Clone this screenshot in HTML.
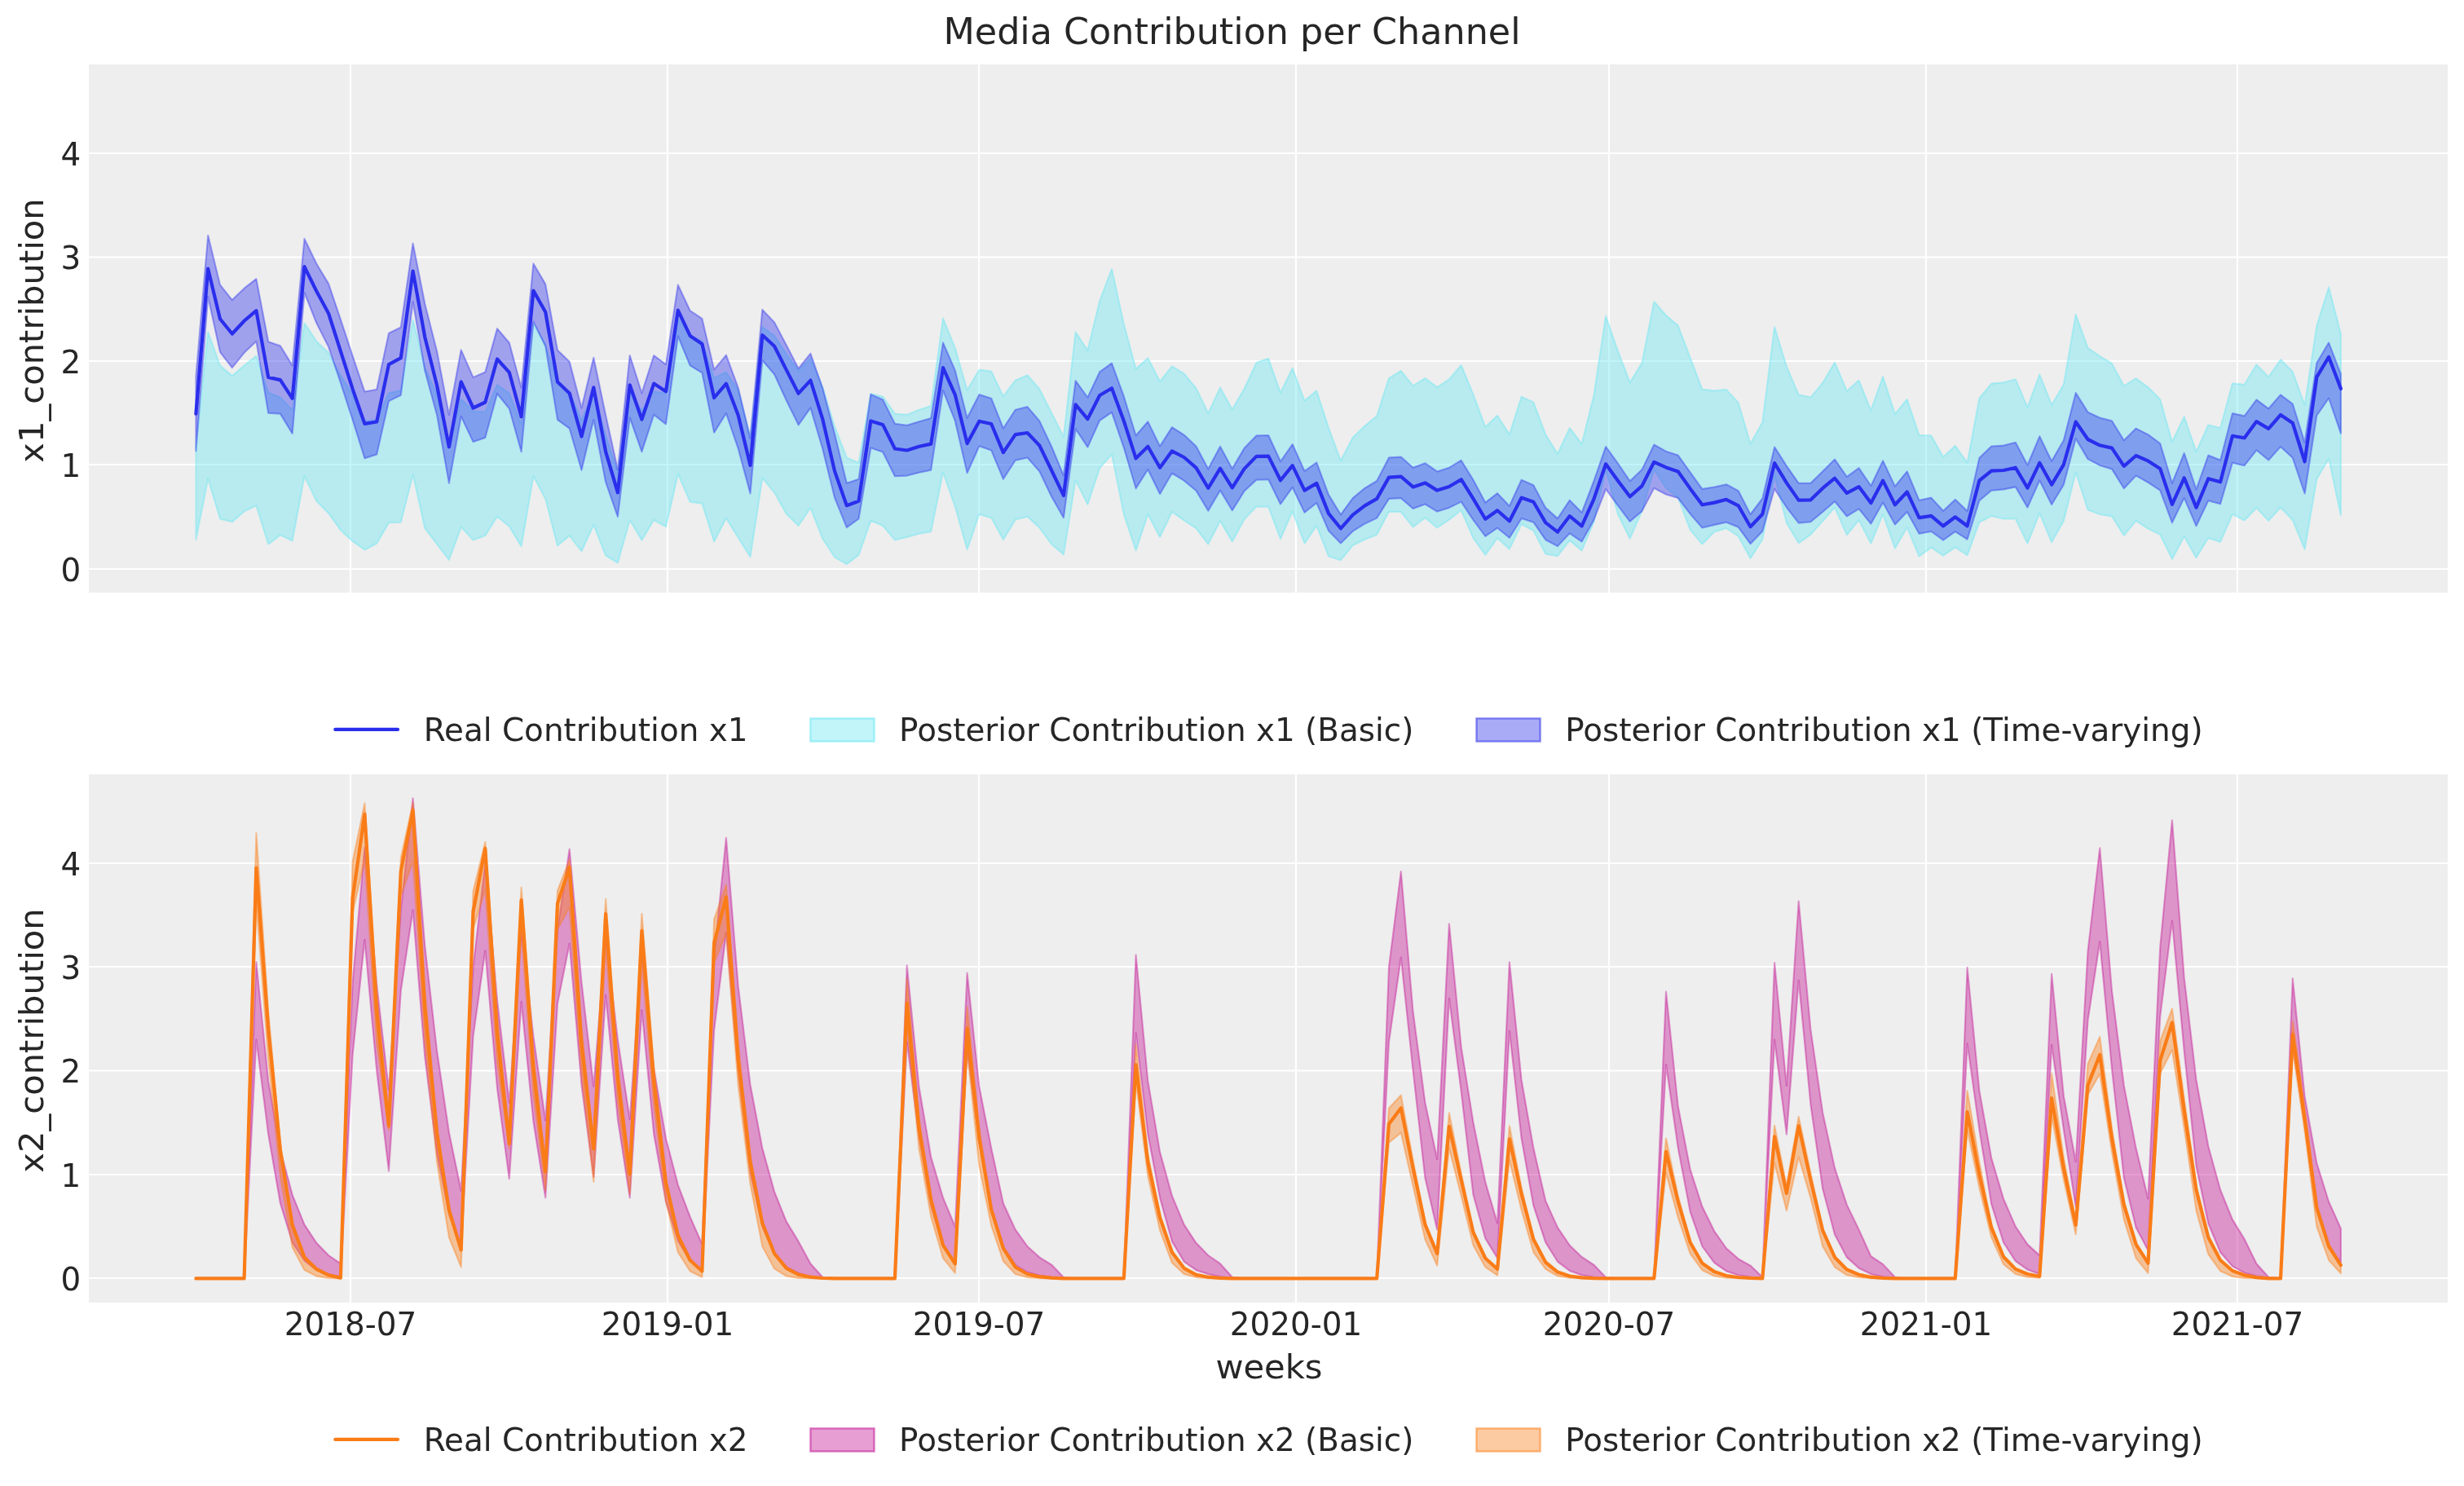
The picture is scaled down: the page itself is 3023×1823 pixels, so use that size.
<!DOCTYPE html>
<html lang="en"><head><meta charset="utf-8"><title>Media Contribution per Channel</title>
<style>html,body{margin:0;padding:0;background:#ffffff}svg{display:block;will-change:transform}text{font-family:"DejaVu Sans","Liberation Sans",sans-serif;fill:#262626}</style></head>
<body>
<svg width="3023" height="1823" viewBox="0 0 3023 1823">
<rect width="3023" height="1823" fill="#ffffff"/>
<text x="1511.5" y="54.3" text-anchor="middle" font-size="44.44">Media Contribution per Channel</text>
<rect x="109.0" y="79.0" width="2894.0" height="648.0" fill="#eeeeee"/>
<clipPath id="clipTop"><rect x="109.0" y="79.0" width="2894.0" height="648.0"/></clipPath>
<g stroke="#ffffff" stroke-width="2.22" fill="none"><path d="M430 79.0 V727.0"/><path d="M819 79.0 V727.0"/><path d="M1201 79.0 V727.0"/><path d="M1590 79.0 V727.0"/><path d="M1974 79.0 V727.0"/><path d="M2363 79.0 V727.0"/><path d="M2745 79.0 V727.0"/><path d="M109.0 698 H3003.0"/><path d="M109.0 570 H3003.0"/><path d="M109.0 443 H3003.0"/><path d="M109.0 315.5 H3003.0"/><path d="M109.0 188 H3003.0"/></g>
<g clip-path="url(#clipTop)">
<path d="M240.4 547.4 L255.2 407.3 L270 448.4 L284.8 461.1 L299.6 448.4 L314.4 436.5 L329.2 481.8 L343.9 487.5 L358.7 503.1 L373.5 396.4 L388.3 418.7 L403.1 432.8 L417.9 460.7 L432.6 483.9 L447.4 516.7 L462.2 514.9 L477 482.2 L491.8 479 L506.6 392.4 L521.3 451.1 L536.1 483.9 L550.9 542.3 L565.7 489.4 L580.5 504.5 L595.3 505.4 L610 472.1 L624.8 482.7 L639.6 520.6 L654.4 396.4 L669.2 422.6 L684 469.7 L698.7 481.1 L713.5 515.5 L728.3 481.1 L743.1 534.7 L757.9 579.3 L772.7 481.1 L787.4 504.1 L802.2 480.2 L817 482.2 L831.8 390.9 L846.6 411 L861.4 418.7 L876.1 463.9 L890.9 456.5 L905.7 478.6 L920.5 535.9 L935.3 401 L950.1 411.9 L964.8 434 L979.6 454.8 L994.4 439.1 L1009.2 474.8 L1024 523.1 L1038.8 561.4 L1053.5 567.8 L1068.3 483 L1083.1 486.6 L1097.9 507.6 L1112.7 508.7 L1127.5 502.7 L1142.2 498.1 L1157 390.5 L1171.8 427.1 L1186.6 478.5 L1201.4 453.5 L1216.2 455.6 L1230.9 486.2 L1245.7 466.6 L1260.5 460.2 L1275.3 477.2 L1290.1 506.4 L1304.9 535.9 L1319.6 407.3 L1334.4 429.8 L1349.2 369.1 L1364 330 L1378.8 397.5 L1393.6 452.6 L1408.3 439.2 L1423.1 468 L1437.9 449.3 L1452.7 458.4 L1467.5 476.3 L1482.3 506.9 L1497 475.4 L1511.8 502.2 L1526.6 476.7 L1541.4 445.1 L1556.2 439.8 L1571 481.8 L1585.7 451.7 L1600.5 491.6 L1615.3 479.4 L1630.1 525 L1644.9 565.1 L1659.7 536.8 L1674.4 522.6 L1689.2 510.3 L1704 463.9 L1718.8 454.8 L1733.6 473.4 L1748.4 463.9 L1763.2 475.1 L1777.9 465.3 L1792.7 448 L1807.5 483.9 L1822.3 523.7 L1837.1 509.8 L1851.9 533.1 L1866.6 486.6 L1881.4 493.4 L1896.2 533.1 L1911 556.8 L1925.8 525 L1940.6 544.6 L1955.3 485.7 L1970.1 387.7 L1984.9 430.5 L1999.7 469.2 L2014.5 445.1 L2029.3 370 L2044 386.7 L2058.8 399.6 L2073.6 438.7 L2088.4 477.6 L2103.2 479.4 L2118 477.9 L2132.7 494 L2147.5 544.4 L2162.3 518 L2177.1 401 L2191.9 449.7 L2206.7 484.3 L2221.4 487.4 L2236.2 469.7 L2251 444.6 L2265.8 479.7 L2280.6 466.5 L2295.4 503.4 L2310.1 461.9 L2324.9 508 L2339.7 489.8 L2354.5 533.9 L2369.3 534.4 L2384.1 560.4 L2398.8 546.8 L2413.6 567.7 L2428.4 488.5 L2443.2 470.6 L2458 469.2 L2472.8 465.2 L2487.5 499.7 L2502.3 459.3 L2517.1 496.7 L2531.9 471.6 L2546.7 385.8 L2561.5 426.8 L2576.2 436.9 L2591 446 L2605.8 473.4 L2620.6 464.2 L2635.4 475.1 L2650.2 489.8 L2664.9 542.1 L2679.7 511.1 L2694.5 554.2 L2709.3 521.2 L2724.1 525 L2738.9 470.3 L2753.6 471.8 L2768.4 447.2 L2783.2 462.4 L2798 441.1 L2812.8 456 L2827.6 497.1 L2842.3 399.7 L2857.1 352.3 L2871.9 409.8 L2871.9 632.2 L2857.1 562.8 L2842.3 587.8 L2827.6 674.1 L2812.8 638 L2798 622.5 L2783.2 638.9 L2768.4 623 L2753.6 638.4 L2738.9 630.8 L2724.1 664.9 L2709.3 659.8 L2694.5 684.2 L2679.7 658 L2664.9 685.9 L2650.2 655.9 L2635.4 648.6 L2620.6 638.9 L2605.8 657.1 L2591 633.4 L2576.2 631 L2561.5 625.5 L2546.7 579.4 L2531.9 638.9 L2517.1 665.3 L2502.3 629.7 L2487.5 666.8 L2472.8 636.5 L2458 636.5 L2443.2 633.1 L2428.4 640.7 L2413.6 681.2 L2398.8 671.4 L2384.1 681.7 L2369.3 671.7 L2354.5 682.6 L2339.7 647.1 L2324.9 672.7 L2310.1 630.8 L2295.4 666.8 L2280.6 638 L2265.8 656.3 L2251 622.5 L2236.2 639.4 L2221.4 655.9 L2206.7 666.3 L2191.9 641.6 L2177.1 583.3 L2162.3 661.7 L2147.5 685.1 L2132.7 658 L2118 648 L2103.2 652.6 L2088.4 667.6 L2073.6 649.9 L2058.8 610.6 L2044 598.8 L2029.3 576 L2014.5 627.1 L1999.7 660.8 L1984.9 630.8 L1970.1 576 L1955.3 640.7 L1940.6 675.4 L1925.8 662.9 L1911 682.1 L1896.2 679.6 L1881.4 651.2 L1866.6 643 L1851.9 673.6 L1837.1 660.1 L1822.3 680.8 L1807.5 660.2 L1792.7 626 L1777.9 637.6 L1763.2 647.5 L1748.4 635.1 L1733.6 646.6 L1718.8 628 L1704 627.8 L1689.2 655.9 L1674.4 661.7 L1659.7 669 L1644.9 687.2 L1630.1 682.6 L1615.3 645 L1600.5 666.7 L1585.7 627.3 L1571 661.2 L1556.2 621.6 L1541.4 621.6 L1526.6 637.1 L1511.8 664.4 L1497 638.9 L1482.3 667.6 L1467.5 648 L1452.7 638.4 L1437.9 628 L1423.1 658.9 L1408.3 630.8 L1393.6 675.4 L1378.8 630.8 L1364 557.4 L1349.2 574.2 L1334.4 618.9 L1319.6 589.1 L1304.9 680.3 L1290.1 667.6 L1275.3 647.5 L1260.5 633.8 L1245.7 637.6 L1230.9 662.1 L1216.2 635.2 L1201.4 631 L1186.6 674.1 L1171.8 621.6 L1157 579.3 L1142.2 652.2 L1127.5 654.7 L1112.7 658.9 L1097.9 662.6 L1083.1 644.9 L1068.3 638.9 L1053.5 680.8 L1038.8 692.2 L1024 683.5 L1009.2 660.8 L994.4 623 L979.6 644.9 L964.8 630.4 L950.1 604.3 L935.3 586.4 L920.5 683.3 L905.7 659.6 L890.9 635.6 L876.1 664.4 L861.4 617.6 L846.6 615.6 L831.8 581.4 L817 646.2 L802.2 638 L787.4 662.6 L772.7 638 L757.9 690.5 L743.1 681.4 L728.3 643.9 L713.5 676.3 L698.7 657.1 L684 669.4 L669.2 612 L654.4 584 L639.6 670.3 L624.8 645.8 L610 633.8 L595.3 657.1 L580.5 662.6 L565.7 646.6 L550.9 686.8 L536.1 667.6 L521.3 648 L506.6 582.2 L491.8 640.7 L477 641.3 L462.2 666.8 L447.4 674.5 L432.6 663.9 L417.9 650.4 L403.1 629.7 L388.3 614.7 L373.5 584 L358.7 663.5 L343.9 656.3 L329.2 667.7 L314.4 620.2 L299.6 627.4 L284.8 640.2 L270 636.5 L255.2 587.3 L240.4 662.1Z" fill="#65e5f3" fill-opacity="0.4" stroke="#65e5f3" stroke-opacity="0.4" stroke-width="2.1" stroke-linejoin="round"/>
<path d="M240.4 462 L255.2 288.8 L270 349.4 L284.8 368.1 L299.6 353.7 L314.4 342.1 L329.2 419.2 L343.9 424.2 L358.7 448.4 L373.5 292.9 L388.3 323.5 L403.1 348.1 L417.9 391.9 L432.6 436.7 L447.4 480.5 L462.2 477.8 L477 408.7 L491.8 401.5 L506.6 298.6 L521.3 372.7 L536.1 431 L550.9 508.9 L565.7 429.3 L580.5 462.9 L595.3 456.5 L610 403.1 L624.8 420.5 L639.6 475.8 L654.4 323.4 L669.2 348.6 L684 429.6 L698.7 443.8 L713.5 500.5 L728.3 438.7 L743.1 509.2 L757.9 576 L772.7 436 L787.4 482.3 L802.2 436 L817 447.1 L831.8 349.4 L846.6 381 L861.4 390.9 L876.1 453.4 L890.9 435.6 L905.7 475.8 L920.5 537.7 L935.3 379.9 L950.1 395.5 L964.8 423.4 L979.6 452.1 L994.4 433.7 L1009.2 476 L1024 532.2 L1038.8 592.8 L1053.5 587.8 L1068.3 483.9 L1083.1 490.3 L1097.9 519.8 L1112.7 521.8 L1127.5 517.3 L1142.2 513.1 L1157 420.3 L1171.8 454.4 L1186.6 512.7 L1201.4 483.9 L1216.2 488.7 L1230.9 525.5 L1245.7 502.7 L1260.5 499.1 L1275.3 516.4 L1290.1 547.7 L1304.9 583.3 L1319.6 467.1 L1334.4 487.5 L1349.2 456.2 L1364 445.6 L1378.8 486.2 L1393.6 534.3 L1408.3 517.3 L1423.1 547.4 L1437.9 524.1 L1452.7 533.6 L1467.5 547.4 L1482.3 575.3 L1497 547.7 L1511.8 574.9 L1526.6 549.8 L1541.4 534.4 L1556.2 534 L1571 566 L1585.7 545 L1600.5 577.9 L1615.3 567.4 L1630.1 607.1 L1644.9 631.3 L1659.7 611.1 L1674.4 598.8 L1689.2 590 L1704 561.4 L1718.8 560.5 L1733.6 573.7 L1748.4 568.2 L1763.2 578.4 L1777.9 573.7 L1792.7 564.7 L1807.5 588.7 L1822.3 616.6 L1837.1 605.1 L1851.9 620.7 L1866.6 588.7 L1881.4 595.2 L1896.2 622.9 L1911 636.1 L1925.8 613.7 L1940.6 628.8 L1955.3 590.5 L1970.1 547.9 L1984.9 568.4 L1999.7 590.2 L2014.5 576.1 L2029.3 545.5 L2044 553.7 L2058.8 558.6 L2073.6 579.3 L2088.4 599.9 L2103.2 597.5 L2118 594.2 L2132.7 602.1 L2147.5 631 L2162.3 611.5 L2177.1 548.4 L2191.9 571.6 L2206.7 592.8 L2221.4 592.8 L2236.2 578.3 L2251 563.6 L2265.8 584.9 L2280.6 574.2 L2295.4 596 L2310.1 565.3 L2324.9 596.6 L2339.7 578.3 L2354.5 613.7 L2369.3 610.6 L2384.1 626.7 L2398.8 612.8 L2413.6 627.1 L2428.4 561.8 L2443.2 547.5 L2458 546.6 L2472.8 542.7 L2487.5 570.5 L2502.3 535.3 L2517.1 565.8 L2531.9 539.9 L2546.7 481.9 L2561.5 505.6 L2576.2 512.5 L2591 516.2 L2605.8 540.3 L2620.6 525.6 L2635.4 533.1 L2650.2 544 L2664.9 592.8 L2679.7 555.9 L2694.5 600.4 L2709.3 558.6 L2724.1 564.5 L2738.9 507.1 L2753.6 510.3 L2768.4 490.3 L2783.2 501.3 L2798 484.3 L2812.8 495.5 L2827.6 542.8 L2842.3 445.3 L2857.1 420.3 L2871.9 459 L2871.9 531.7 L2857.1 488.5 L2842.3 509.8 L2827.6 605.5 L2812.8 561.8 L2798 548 L2783.2 564.5 L2768.4 552.3 L2753.6 571.2 L2738.9 567.7 L2724.1 618.3 L2709.3 614.3 L2694.5 645.3 L2679.7 610.8 L2664.9 641.3 L2650.2 601.6 L2635.4 591.9 L2620.6 583.6 L2605.8 599.2 L2591 575.4 L2576.2 570.9 L2561.5 563.1 L2546.7 538.1 L2531.9 594.6 L2517.1 619 L2502.3 589.5 L2487.5 622.6 L2472.8 597.4 L2458 600.4 L2443.2 601.8 L2428.4 614.1 L2413.6 661.7 L2398.8 652.2 L2384.1 662.6 L2369.3 652 L2354.5 654.7 L2339.7 628 L2324.9 643.5 L2310.1 616.5 L2295.4 642.6 L2280.6 624.3 L2265.8 633.4 L2251 615.2 L2236.2 628 L2221.4 640.3 L2206.7 641.6 L2191.9 622.5 L2177.1 599.7 L2162.3 651.7 L2147.5 667.2 L2132.7 646.7 L2118 640.7 L2103.2 643.9 L2088.4 647.5 L2073.6 630.4 L2058.8 611 L2044 606.5 L2029.3 598.8 L2014.5 627.1 L1999.7 639.8 L1984.9 620.2 L1970.1 600 L1955.3 638.2 L1940.6 664.4 L1925.8 654.3 L1911 670.1 L1896.2 662.2 L1881.4 640.7 L1866.6 636.1 L1851.9 659.8 L1837.1 647.7 L1822.3 658 L1807.5 638 L1792.7 615.6 L1777.9 622.9 L1763.2 627.6 L1748.4 618.5 L1733.6 624 L1718.8 611.1 L1704 611.9 L1689.2 635.6 L1674.4 642.6 L1659.7 651.7 L1644.9 666.6 L1630.1 651.3 L1615.3 617 L1600.5 628.8 L1585.7 597.9 L1571 618.5 L1556.2 588.2 L1541.4 588.7 L1526.6 602.5 L1511.8 626.2 L1497 601.6 L1482.3 626.6 L1467.5 602 L1452.7 589.7 L1437.9 580.5 L1423.1 606 L1408.3 576 L1393.6 599.3 L1378.8 549.3 L1364 505.9 L1349.2 515.9 L1334.4 548.6 L1319.6 526.1 L1304.9 635.2 L1290.1 609.2 L1275.3 578.3 L1260.5 561.4 L1245.7 564.7 L1230.9 587.8 L1216.2 552.4 L1201.4 547.3 L1186.6 580.2 L1171.8 516.4 L1157 479 L1142.2 576.7 L1127.5 579.7 L1112.7 583.6 L1097.9 584.2 L1083.1 554.5 L1068.3 549.6 L1053.5 636.5 L1038.8 647.1 L1024 610.6 L1009.2 550.5 L994.4 500.4 L979.6 521.3 L964.8 491.2 L950.1 459.3 L935.3 442 L920.5 605.5 L905.7 550.5 L890.9 507.1 L876.1 530.7 L861.4 457.4 L846.6 448.4 L831.8 412.4 L817 520.3 L802.2 508.8 L787.4 554.2 L772.7 512.4 L757.9 633.9 L743.1 591.5 L728.3 514.8 L713.5 576.8 L698.7 525.7 L684 514.9 L669.2 424.7 L654.4 394.6 L639.6 554.2 L624.8 501.3 L610 482.9 L595.3 537 L580.5 542.1 L565.7 510.8 L550.9 592.8 L536.1 509.4 L521.3 454.8 L506.6 370.5 L491.8 484.7 L477 492.1 L462.2 557.4 L447.4 562.3 L432.6 514.9 L417.9 469.7 L403.1 425.6 L388.3 396.4 L373.5 359 L358.7 531.9 L343.9 507.6 L329.2 506.8 L314.4 418.7 L299.6 432.8 L284.8 451.1 L270 431.9 L255.2 364 L240.4 553.3Z" fill="#2a2eec" fill-opacity="0.4" stroke="#2a2eec" stroke-opacity="0.4" stroke-width="2.1" stroke-linejoin="round"/>
<path d="M240.4 507.6 L255.2 329.7 L270 391.3 L284.8 409.5 L299.6 393.7 L314.4 381.2 L329.2 462.9 L343.9 466.1 L358.7 488.8 L373.5 327.2 L388.3 357.3 L403.1 384.5 L417.9 430.9 L432.6 477.1 L447.4 519.9 L462.2 517.5 L477 447.1 L491.8 439.2 L506.6 332.5 L521.3 413.7 L536.1 473 L550.9 548.3 L565.7 468.3 L580.5 500.5 L595.3 493.5 L610 440.5 L624.8 456.9 L639.6 511.1 L654.4 356.6 L669.2 382.7 L684 468.4 L698.7 482.4 L713.5 535.4 L728.3 475.3 L743.1 554.2 L757.9 604.3 L772.7 472.3 L787.4 514.5 L802.2 470.6 L817 480.2 L831.8 380.6 L846.6 411.9 L861.4 421.9 L876.1 488 L890.9 470.6 L905.7 509.4 L920.5 570.9 L935.3 411 L950.1 424.7 L964.8 453.9 L979.6 482.7 L994.4 466.6 L1009.2 514 L1024 577.9 L1038.8 620.2 L1053.5 614.7 L1068.3 516.4 L1083.1 520.9 L1097.9 550.5 L1112.7 552.5 L1127.5 547.8 L1142.2 544.6 L1157 451.1 L1171.8 484.4 L1186.6 544.1 L1201.4 516.7 L1216.2 520 L1230.9 555.1 L1245.7 533.1 L1260.5 531 L1275.3 546.5 L1290.1 577 L1304.9 607.9 L1319.6 496.3 L1334.4 514.1 L1349.2 485 L1364 476.3 L1378.8 516.4 L1393.6 562.3 L1408.3 547.8 L1423.1 573.7 L1437.9 553.3 L1452.7 561 L1467.5 573.9 L1482.3 598.8 L1497 574.7 L1511.8 598.4 L1526.6 575.1 L1541.4 559.9 L1556.2 559.6 L1571 589.3 L1585.7 571.1 L1600.5 601.6 L1615.3 592.9 L1630.1 630.1 L1644.9 648.3 L1659.7 631.7 L1674.4 620.3 L1689.2 611.9 L1704 585.6 L1718.8 584.6 L1733.6 597.4 L1748.4 592.4 L1763.2 601.6 L1777.9 597 L1792.7 588.2 L1807.5 611.9 L1822.3 636.8 L1837.1 626.2 L1851.9 639.3 L1866.6 610.6 L1881.4 615.7 L1896.2 641.1 L1911 652.6 L1925.8 633.1 L1940.6 645.3 L1955.3 612.7 L1970.1 569.3 L1984.9 589.7 L1999.7 609.3 L2014.5 596.1 L2029.3 566.8 L2044 573.4 L2058.8 578.5 L2073.6 599.4 L2088.4 619.3 L2103.2 616.6 L2118 612.8 L2132.7 620.3 L2147.5 646.2 L2162.3 630.8 L2177.1 568.1 L2191.9 592.4 L2206.7 613.6 L2221.4 613.3 L2236.2 598.9 L2251 586.7 L2265.8 604.9 L2280.6 597.1 L2295.4 617 L2310.1 589.6 L2324.9 619.2 L2339.7 603.5 L2354.5 635.2 L2369.3 632.9 L2384.1 645.3 L2398.8 634.3 L2413.6 645.3 L2428.4 589.5 L2443.2 577.6 L2458 577 L2472.8 573.7 L2487.5 598.6 L2502.3 567.8 L2517.1 594.6 L2531.9 569.8 L2546.7 517.5 L2561.5 539 L2576.2 546.3 L2591 549.6 L2605.8 571.8 L2620.6 559 L2635.4 565.4 L2650.2 574.9 L2664.9 618.8 L2679.7 586.3 L2694.5 622.6 L2709.3 587.2 L2724.1 591.3 L2738.9 534.8 L2753.6 537.2 L2768.4 517.1 L2783.2 525.9 L2798 508.9 L2812.8 519 L2827.6 566.3 L2842.3 462.7 L2857.1 437.9 L2871.9 476.8" fill="none" stroke="#2a2eec" stroke-width="4.2" stroke-linejoin="round" stroke-linecap="round"/>
</g>
<text x="99.3" y="712.8" text-anchor="end" font-size="38.89">0</text><text x="99.3" y="584.8" text-anchor="end" font-size="38.89">1</text><text x="99.3" y="457.8" text-anchor="end" font-size="38.89">2</text><text x="99.3" y="330.3" text-anchor="end" font-size="38.89">3</text><text x="99.3" y="202.8" text-anchor="end" font-size="38.89">4</text>
<text transform="translate(52.5 405.5) rotate(-90)" text-anchor="middle" font-size="41.67">x1_contribution</text>
<path d="M411.3 894.9 H488" stroke="#2a2eec" stroke-width="4.2" stroke-linecap="round" fill="none"/><text x="519.8" y="909" font-size="38.89">Real Contribution x1</text><rect x="993.1" y="880.1" width="80.7" height="30.7" fill="#65e5f3" fill-opacity="0.4"/><rect x="994.8" y="881.8" width="77.3" height="27.3" fill="none" stroke="#65e5f3" stroke-opacity="0.4" stroke-width="2"/><text x="1103.1" y="909" font-size="38.89">Posterior Contribution x1 (Basic)</text><rect x="1810.2" y="880.1" width="80.7" height="30.7" fill="#2a2eec" fill-opacity="0.4"/><rect x="1811.9" y="881.8" width="77.3" height="27.3" fill="none" stroke="#2a2eec" stroke-opacity="0.4" stroke-width="2"/><text x="1920.2" y="909" font-size="38.89">Posterior Contribution x1 (Time-varying)</text>
<rect x="109.0" y="950.0" width="2894.0" height="648.0" fill="#eeeeee"/>
<clipPath id="clipBot"><rect x="109.0" y="950.0" width="2894.0" height="648.0"/></clipPath>
<g stroke="#ffffff" stroke-width="2.22" fill="none"><path d="M430 950.0 V1598.0"/><path d="M819 950.0 V1598.0"/><path d="M1201 950.0 V1598.0"/><path d="M1590 950.0 V1598.0"/><path d="M1974 950.0 V1598.0"/><path d="M2363 950.0 V1598.0"/><path d="M2745 950.0 V1598.0"/><path d="M109.0 1568 H3003.0"/><path d="M109.0 1441 H3003.0"/><path d="M109.0 1313.5 H3003.0"/><path d="M109.0 1186 H3003.0"/><path d="M109.0 1059 H3003.0"/></g>
<g clip-path="url(#clipBot)">
<path d="M240.4 1568.4 L255.2 1568.4 L270 1568.4 L284.8 1568.4 L299.6 1568.4 L314.4 1180.2 L329.2 1326.2 L343.9 1410.4 L358.7 1465.8 L373.5 1502.3 L388.3 1524.8 L403.1 1540 L417.9 1550.2 L432.6 1205.2 L447.4 1039.2 L462.2 1207.7 L477 1336.8 L491.8 1116 L506.6 979.3 L521.3 1160.6 L536.1 1289.3 L550.9 1389.2 L565.7 1460.8 L580.5 1186.1 L595.3 1058.6 L610 1226.8 L624.8 1352.6 L639.6 1140.2 L654.4 1271.4 L669.2 1374.5 L684 1140.2 L698.7 1041.5 L713.5 1205.2 L728.3 1332.7 L743.1 1150.4 L757.9 1275.3 L772.7 1373.3 L787.4 1166.9 L802.2 1311 L817 1396.5 L831.8 1453.6 L846.6 1492.6 L861.4 1526.3 L876.1 1173.3 L890.9 1027.8 L905.7 1210.3 L920.5 1330.7 L935.3 1408.6 L950.1 1462.1 L964.8 1498.6 L979.6 1522.9 L994.4 1550.2 L1009.2 1566.7 L1024 1568.4 L1038.8 1568.4 L1053.5 1568.4 L1068.3 1568.4 L1083.1 1568.4 L1097.9 1568.4 L1112.7 1184.4 L1127.5 1333.3 L1142.2 1419.5 L1157 1469.4 L1171.8 1504.7 L1186.6 1193.6 L1201.4 1333.3 L1216.2 1408.6 L1230.9 1476.3 L1245.7 1508.4 L1260.5 1529 L1275.3 1542.4 L1290.1 1551.6 L1304.9 1567.1 L1319.6 1568.4 L1334.4 1568.4 L1349.2 1568.4 L1364 1568.4 L1378.8 1568.4 L1393.6 1171.6 L1408.3 1325.9 L1423.1 1413.4 L1437.9 1466.9 L1452.7 1502.3 L1467.5 1524.8 L1482.3 1540 L1497 1550.2 L1511.8 1566.7 L1526.6 1568.4 L1541.4 1568.4 L1556.2 1568.4 L1571 1568.4 L1585.7 1568.4 L1600.5 1568.4 L1615.3 1568.4 L1630.1 1568.4 L1644.9 1568.4 L1659.7 1568.4 L1674.4 1568.4 L1689.2 1568.4 L1704 1186.3 L1718.8 1069.1 L1733.6 1241 L1748.4 1352.6 L1763.2 1422 L1777.9 1133.3 L1792.7 1284.6 L1807.5 1377 L1822.3 1450 L1837.1 1500.6 L1851.9 1180.2 L1866.6 1324.7 L1881.4 1408.6 L1896.2 1473.1 L1911 1505.9 L1925.8 1527.7 L1940.6 1541.9 L1955.3 1551.6 L1970.1 1567.1 L1984.9 1568.4 L1999.7 1568.4 L2014.5 1568.4 L2029.3 1568.4 L2044 1216.6 L2058.8 1357.5 L2073.6 1434.2 L2088.4 1480.3 L2103.2 1510.3 L2118 1531.4 L2132.7 1544.3 L2147.5 1552.6 L2162.3 1566.7 L2177.1 1181 L2191.9 1332 L2206.7 1105.5 L2221.4 1262.9 L2236.2 1364.9 L2251 1432.9 L2265.8 1477.9 L2280.6 1508.4 L2295.4 1541.1 L2310.1 1550.9 L2324.9 1566.7 L2339.7 1568.4 L2354.5 1568.4 L2369.3 1568.4 L2384.1 1568.4 L2398.8 1568.4 L2413.6 1186.8 L2428.4 1338.1 L2443.2 1420.8 L2458 1470.6 L2472.8 1504.7 L2487.5 1526.6 L2502.3 1540.1 L2517.1 1194.8 L2531.9 1344.7 L2546.7 1425.3 L2561.5 1166.8 L2576.2 1040.4 L2591 1215.5 L2605.8 1332 L2620.6 1408.6 L2635.4 1470.6 L2650.2 1162 L2664.9 1006.3 L2679.7 1199.7 L2694.5 1324.7 L2709.3 1406.2 L2724.1 1459.7 L2738.9 1496.1 L2753.6 1520 L2768.4 1550.2 L2783.2 1566.7 L2798 1568.4 L2812.8 1200.2 L2827.6 1345.4 L2842.3 1426.8 L2857.1 1474.2 L2871.9 1507.1 L2871.9 1548.5 L2857.1 1530.2 L2842.3 1480.5 L2827.6 1377.2 L2812.8 1281.6 L2798 1568.4 L2783.2 1567.6 L2768.4 1565.5 L2753.6 1561.4 L2738.9 1553.4 L2724.1 1536.3 L2709.3 1501 L2694.5 1430.5 L2679.7 1289.3 L2664.9 1129.6 L2650.2 1247.1 L2635.4 1533.9 L2620.6 1505.9 L2605.8 1445 L2591 1311.3 L2576.2 1155.2 L2561.5 1251.9 L2546.7 1480.5 L2531.9 1386.1 L2517.1 1281.9 L2502.3 1563 L2487.5 1557.6 L2472.8 1547.2 L2458 1524.2 L2443.2 1477.3 L2428.4 1386.1 L2413.6 1280.1 L2398.8 1568.4 L2384.1 1568.4 L2369.3 1568.4 L2354.5 1568.4 L2339.7 1568.4 L2324.9 1567.9 L2310.1 1566.2 L2295.4 1563 L2280.6 1555.8 L2265.8 1542.4 L2251 1514.4 L2236.2 1458.4 L2221.4 1355 L2206.7 1202.6 L2191.9 1391.6 L2177.1 1275.5 L2162.3 1568 L2147.5 1566.7 L2132.7 1564.3 L2118 1559.4 L2103.2 1549.2 L2088.4 1529 L2073.6 1486.4 L2058.8 1408.6 L2044 1306 L2029.3 1568.4 L2014.5 1568.4 L1999.7 1568.4 L1984.9 1568.4 L1970.1 1568.1 L1955.3 1566.7 L1940.6 1564.3 L1925.8 1559 L1911 1547.8 L1896.2 1524.2 L1881.4 1479.2 L1866.6 1396.5 L1851.9 1264.8 L1837.1 1543.5 L1822.3 1519.3 L1807.5 1465.8 L1792.7 1339 L1777.9 1224.7 L1763.2 1508.4 L1748.4 1445 L1733.6 1313.5 L1718.8 1174.6 L1704 1278.7 L1689.2 1568.4 L1674.4 1568.4 L1659.7 1568.4 L1644.9 1568.4 L1630.1 1568.4 L1615.3 1568.4 L1600.5 1568.4 L1585.7 1568.4 L1571 1568.4 L1556.2 1568.4 L1541.4 1568.4 L1526.6 1568.4 L1511.8 1567.9 L1497 1566.2 L1482.3 1563 L1467.5 1558.2 L1452.7 1547.8 L1437.9 1522.9 L1423.1 1469.4 L1408.3 1391.2 L1393.6 1267.4 L1378.8 1568.4 L1364 1568.4 L1349.2 1568.4 L1334.4 1568.4 L1319.6 1568.4 L1304.9 1568 L1290.1 1566.9 L1275.3 1564.8 L1260.5 1560.8 L1245.7 1551.8 L1230.9 1530.2 L1216.2 1481.7 L1201.4 1400.2 L1186.6 1288 L1171.8 1550.6 L1157 1528.9 L1142.2 1479.2 L1127.5 1393.8 L1112.7 1278.2 L1097.9 1568.4 L1083.1 1568.4 L1068.3 1568.4 L1053.5 1568.4 L1038.8 1568.4 L1024 1568.4 L1009.2 1568 L994.4 1565.9 L979.6 1562 L964.8 1554.4 L950.1 1537.8 L935.3 1504.7 L920.5 1438.4 L905.7 1313.5 L890.9 1144 L876.1 1264.2 L861.4 1558.2 L846.6 1546.7 L831.8 1522.5 L817 1474.2 L802.2 1391.2 L787.4 1239.3 L772.7 1469.4 L757.9 1373.4 L743.1 1220.8 L728.3 1443.9 L713.5 1331.3 L698.7 1157.6 L684 1231.3 L669.2 1469.4 L654.4 1376 L639.6 1228.9 L624.8 1446.3 L610 1335.2 L595.3 1166.3 L580.5 1271.4 L565.7 1530.2 L550.9 1489.4 L536.1 1415.5 L521.3 1296.9 L506.6 1116.6 L491.8 1215.5 L477 1436.6 L462.2 1313.5 L447.4 1152.9 L432.6 1294.4 L417.9 1566.2 L403.1 1563.3 L388.3 1558.2 L373.5 1546.7 L358.7 1524.2 L343.9 1476.3 L329.2 1391.6 L314.4 1275.3 L299.6 1568.4 L284.8 1568.4 L270 1568.4 L255.2 1568.4 L240.4 1568.4Z" fill="#c10c90" fill-opacity="0.4" stroke="#c10c90" stroke-opacity="0.4" stroke-width="2.1" stroke-linejoin="round"/>
<path d="M240.4 1568.4 L255.2 1568.4 L270 1568.4 L284.8 1568.4 L299.6 1568.4 L314.4 1022.1 L329.2 1241.1 L343.9 1403.9 L358.7 1500.5 L373.5 1541.6 L388.3 1556.6 L403.1 1564.2 L417.9 1567.6 L432.6 1057.3 L447.4 985.3 L462.2 1217.9 L477 1372.9 L491.8 1052.2 L506.6 985.1 L521.3 1213.8 L536.1 1381.9 L550.9 1481.3 L565.7 1532.3 L580.5 1093.4 L595.3 1032.9 L610 1246.6 L624.8 1395.8 L639.6 1088.6 L654.4 1292.9 L669.2 1431.4 L684 1092.6 L698.7 1054.8 L713.5 1261.6 L728.3 1402.2 L743.1 1102.8 L757.9 1305.2 L772.7 1434.4 L787.4 1120.7 L802.2 1309.3 L817 1445.9 L831.8 1513.8 L846.6 1545.3 L861.4 1559.2 L876.1 1127.9 L890.9 1085.4 L905.7 1280.7 L920.5 1419.2 L935.3 1498.2 L950.1 1537 L964.8 1555.4 L979.6 1563.4 L994.4 1566.7 L1009.2 1568 L1024 1568.4 L1038.8 1568.4 L1053.5 1568.4 L1068.3 1568.4 L1083.1 1568.4 L1097.9 1568.4 L1112.7 1200.8 L1127.5 1371.3 L1142.2 1467.4 L1157 1526.3 L1171.8 1549.9 L1186.6 1235 L1201.4 1384.4 L1216.2 1480.2 L1230.9 1530.1 L1245.7 1554.1 L1260.5 1562.9 L1275.3 1566.2 L1290.1 1567.6 L1304.9 1568.4 L1319.6 1568.4 L1334.4 1568.4 L1349.2 1568.4 L1364 1568.4 L1378.8 1568.4 L1393.6 1281.4 L1408.3 1415.7 L1423.1 1490.4 L1437.9 1535.2 L1452.7 1555.4 L1467.5 1563.7 L1482.3 1566.7 L1497 1567.9 L1511.8 1568.4 L1526.6 1568.4 L1541.4 1568.4 L1556.2 1568.4 L1571 1568.4 L1585.7 1568.4 L1600.5 1568.4 L1615.3 1568.4 L1630.1 1568.4 L1644.9 1568.4 L1659.7 1568.4 L1674.4 1568.4 L1689.2 1568.4 L1704 1359.5 L1718.8 1343.5 L1733.6 1423.4 L1748.4 1499.3 L1763.2 1536.9 L1777.9 1365.2 L1792.7 1439.1 L1807.5 1509.4 L1822.3 1542.7 L1837.1 1556.6 L1851.9 1381.3 L1866.6 1457.3 L1881.4 1518.3 L1896.2 1547.8 L1911 1560.4 L1925.8 1565.4 L1940.6 1567.3 L1955.3 1568.1 L1970.1 1568.4 L1984.9 1568.4 L1999.7 1568.4 L2014.5 1568.4 L2029.3 1568.4 L2044 1396.5 L2058.8 1467.6 L2073.6 1522.2 L2088.4 1549 L2103.2 1559.6 L2118 1564.9 L2132.7 1567 L2147.5 1567.9 L2162.3 1568.4 L2177.1 1380.7 L2191.9 1455 L2206.7 1369.7 L2221.4 1439.1 L2236.2 1506.9 L2251 1541.5 L2265.8 1557.1 L2280.6 1563.7 L2295.4 1566.7 L2310.1 1567.9 L2324.9 1568.4 L2339.7 1568.4 L2354.5 1568.4 L2369.3 1568.4 L2384.1 1568.4 L2398.8 1568.4 L2413.6 1338.1 L2428.4 1425.7 L2443.2 1503.1 L2458 1540.8 L2472.8 1556.6 L2487.5 1562.9 L2502.3 1565.6 L2517.1 1317.1 L2531.9 1420.8 L2546.7 1498.3 L2561.5 1305.1 L2576.2 1271.8 L2591 1384.4 L2605.8 1473.8 L2620.6 1525.1 L2635.4 1549.1 L2650.2 1276.8 L2664.9 1237.4 L2679.7 1348 L2694.5 1454.8 L2709.3 1516.3 L2724.1 1545.3 L2738.9 1558.7 L2753.6 1564.2 L2768.4 1567.1 L2783.2 1568.4 L2798 1568.4 L2812.8 1253.1 L2827.6 1359.8 L2842.3 1477.7 L2857.1 1527.6 L2871.9 1551.6 L2871.9 1562.3 L2857.1 1546 L2842.3 1504.7 L2827.6 1387.4 L2812.8 1288 L2798 1568.4 L2783.2 1568.4 L2768.4 1568.3 L2753.6 1567.9 L2738.9 1566 L2724.1 1559.4 L2709.3 1538.7 L2694.5 1485.2 L2679.7 1384.2 L2664.9 1288 L2650.2 1316.8 L2635.4 1561.8 L2620.6 1543.5 L2605.8 1496.1 L2591 1413.4 L2576.2 1317.5 L2561.5 1342.9 L2546.7 1514.4 L2531.9 1447.6 L2517.1 1369.6 L2502.3 1567.8 L2487.5 1566.7 L2472.8 1563 L2458 1550.9 L2443.2 1518.1 L2428.4 1457.3 L2413.6 1386.1 L2398.8 1568.4 L2384.1 1568.4 L2369.3 1568.4 L2354.5 1568.4 L2339.7 1568.4 L2324.9 1568.4 L2310.1 1568.4 L2295.4 1568.2 L2280.6 1567.1 L2265.8 1564.3 L2251 1554.5 L2236.2 1529 L2221.4 1469.4 L2206.7 1419.5 L2191.9 1485.2 L2177.1 1426.8 L2162.3 1568.4 L2147.5 1568.4 L2132.7 1568.3 L2118 1567.6 L2103.2 1565.5 L2088.4 1558.2 L2073.6 1537.9 L2058.8 1493.7 L2044 1439 L2029.3 1568.4 L2014.5 1568.4 L1999.7 1568.4 L1984.9 1568.4 L1970.1 1568.4 L1955.3 1568.4 L1940.6 1568.3 L1925.8 1567.7 L1911 1565.5 L1896.2 1556.9 L1881.4 1536.3 L1866.6 1484.3 L1851.9 1423.2 L1837.1 1564.7 L1822.3 1554.5 L1807.5 1527.7 L1792.7 1466.9 L1777.9 1408.6 L1763.2 1552.6 L1748.4 1520.5 L1733.6 1454.8 L1718.8 1389.6 L1704 1401.8 L1689.2 1568.4 L1674.4 1568.4 L1659.7 1568.4 L1644.9 1568.4 L1630.1 1568.4 L1615.3 1568.4 L1600.5 1568.4 L1585.7 1568.4 L1571 1568.4 L1556.2 1568.4 L1541.4 1568.4 L1526.6 1568.4 L1511.8 1568.4 L1497 1568.4 L1482.3 1568.2 L1467.5 1567.1 L1452.7 1563 L1437.9 1549.2 L1423.1 1509.5 L1408.3 1442.8 L1393.6 1326.2 L1378.8 1568.4 L1364 1568.4 L1349.2 1568.4 L1334.4 1568.4 L1319.6 1568.4 L1304.9 1568.4 L1290.1 1568.4 L1275.3 1568.2 L1260.5 1567.1 L1245.7 1563 L1230.9 1547.2 L1216.2 1503.4 L1201.4 1430.8 L1186.6 1288 L1171.8 1561.8 L1157 1543.5 L1142.2 1492.6 L1127.5 1409.1 L1112.7 1256.1 L1097.9 1568.4 L1083.1 1568.4 L1068.3 1568.4 L1053.5 1568.4 L1038.8 1568.4 L1024 1568.4 L1009.2 1568.4 L994.4 1568.3 L979.6 1567.9 L964.8 1565.5 L950.1 1556.4 L935.3 1529 L920.5 1452.4 L905.7 1331.8 L890.9 1144.9 L876.1 1181.5 L861.4 1566.7 L846.6 1559.5 L831.8 1536.3 L817 1474.1 L802.2 1355.3 L787.4 1179.7 L772.7 1464.5 L757.9 1351.9 L743.1 1160.6 L728.3 1450 L713.5 1316 L698.7 1113.3 L684 1140 L669.2 1460.1 L654.4 1341.8 L639.6 1141.4 L624.8 1409.1 L610 1303.7 L595.3 1091.1 L580.5 1140.2 L565.7 1554.4 L550.9 1518.1 L536.1 1425.7 L521.3 1276.8 L506.6 1056.6 L491.8 1099.4 L477 1386.1 L462.2 1280.2 L447.4 1054.8 L432.6 1119.8 L417.9 1568.4 L403.1 1568 L388.3 1565.6 L373.5 1558 L358.7 1530.3 L343.9 1442.5 L329.2 1299.2 L314.4 1107 L299.6 1568.4 L284.8 1568.4 L270 1568.4 L255.2 1568.4 L240.4 1568.4Z" fill="#fa7c17" fill-opacity="0.4" stroke="#fa7c17" stroke-opacity="0.4" stroke-width="2.1" stroke-linejoin="round"/>
<path d="M240.4 1568.4 L255.2 1568.4 L270 1568.4 L284.8 1568.4 L299.6 1568.4 L314.4 1064.6 L329.2 1262.5 L343.9 1411 L358.7 1502.8 L373.5 1542.4 L388.3 1556.9 L403.1 1564.3 L417.9 1567.6 L432.6 1101.9 L447.4 998.7 L462.2 1240.9 L477 1381.3 L491.8 1068.8 L506.6 993.9 L521.3 1237 L536.1 1390 L550.9 1484.3 L565.7 1533.4 L580.5 1118.5 L595.3 1040.8 L610 1267.6 L624.8 1403.2 L639.6 1104.1 L654.4 1311 L669.2 1437.3 L684 1108.4 L698.7 1064 L713.5 1281.6 L728.3 1409.3 L743.1 1121.1 L757.9 1322.4 L772.7 1440.2 L787.4 1141.8 L802.2 1326.2 L817 1451.1 L831.8 1515.6 L846.6 1546 L861.4 1559.5 L876.1 1157.1 L890.9 1100.4 L905.7 1299.5 L920.5 1425.7 L935.3 1500.6 L950.1 1537.9 L964.8 1555.8 L979.6 1563.6 L994.4 1566.7 L1009.2 1568 L1024 1568.4 L1038.8 1568.4 L1053.5 1568.4 L1068.3 1568.4 L1083.1 1568.4 L1097.9 1568.4 L1112.7 1230.5 L1127.5 1384.2 L1142.2 1471.8 L1157 1527.7 L1171.8 1550.4 L1186.6 1261.8 L1201.4 1396.5 L1216.2 1484 L1230.9 1531.4 L1245.7 1554.5 L1260.5 1563 L1275.3 1566.2 L1290.1 1567.6 L1304.9 1568.4 L1319.6 1568.4 L1334.4 1568.4 L1349.2 1568.4 L1364 1568.4 L1378.8 1568.4 L1393.6 1306.2 L1408.3 1425.7 L1423.1 1493.7 L1437.9 1536.3 L1452.7 1555.8 L1467.5 1563.8 L1482.3 1566.7 L1497 1567.9 L1511.8 1568.4 L1526.6 1568.4 L1541.4 1568.4 L1556.2 1568.4 L1571 1568.4 L1585.7 1568.4 L1600.5 1568.4 L1615.3 1568.4 L1630.1 1568.4 L1644.9 1568.4 L1659.7 1568.4 L1674.4 1568.4 L1689.2 1568.4 L1704 1378.9 L1718.8 1359.3 L1733.6 1432.9 L1748.4 1502.3 L1763.2 1537.9 L1777.9 1381.8 L1792.7 1447.6 L1807.5 1511.9 L1822.3 1543.5 L1837.1 1556.9 L1851.9 1397.4 L1866.6 1464.5 L1881.4 1520.5 L1896.2 1548.5 L1911 1560.6 L1925.8 1565.5 L1940.6 1567.4 L1955.3 1568.1 L1970.1 1568.4 L1984.9 1568.4 L1999.7 1568.4 L2014.5 1568.4 L2029.3 1568.4 L2044 1412.8 L2058.8 1474.2 L2073.6 1524.2 L2088.4 1549.7 L2103.2 1559.9 L2118 1565 L2132.7 1567 L2147.5 1567.9 L2162.3 1568.4 L2177.1 1394.4 L2191.9 1464 L2206.7 1381.2 L2221.4 1447.6 L2236.2 1509.5 L2251 1542.4 L2265.8 1557.4 L2280.6 1563.8 L2295.4 1566.7 L2310.1 1567.9 L2324.9 1568.4 L2339.7 1568.4 L2354.5 1568.4 L2369.3 1568.4 L2384.1 1568.4 L2398.8 1568.4 L2413.6 1364.1 L2428.4 1441 L2443.2 1505.9 L2458 1541.8 L2472.8 1556.9 L2487.5 1563 L2502.3 1565.7 L2517.1 1347 L2531.9 1433.3 L2546.7 1502.8 L2561.5 1331.6 L2576.2 1294 L2591 1396.5 L2605.8 1477.9 L2620.6 1526.6 L2635.4 1549.7 L2650.2 1301.1 L2664.9 1254.5 L2679.7 1362.4 L2694.5 1459.7 L2709.3 1518.1 L2724.1 1546 L2738.9 1559 L2753.6 1564.3 L2768.4 1567.1 L2783.2 1568.4 L2798 1568.4 L2812.8 1269.1 L2827.6 1373.4 L2842.3 1481.6 L2857.1 1529 L2871.9 1552.1" fill="none" stroke="#fa7c17" stroke-width="4.2" stroke-linejoin="round" stroke-linecap="round"/>
</g>
<text x="99.3" y="1582.8" text-anchor="end" font-size="38.89">0</text><text x="99.3" y="1455.8" text-anchor="end" font-size="38.89">1</text><text x="99.3" y="1328.3" text-anchor="end" font-size="38.89">2</text><text x="99.3" y="1200.8" text-anchor="end" font-size="38.89">3</text><text x="99.3" y="1073.8" text-anchor="end" font-size="38.89">4</text>
<text transform="translate(52.5 1276.5) rotate(-90)" text-anchor="middle" font-size="41.67">x2_contribution</text>
<text x="430" y="1637.8" text-anchor="middle" font-size="38.89">2018-07</text>
<text x="819" y="1637.8" text-anchor="middle" font-size="38.89">2019-01</text>
<text x="1201" y="1637.8" text-anchor="middle" font-size="38.89">2019-07</text>
<text x="1590" y="1637.8" text-anchor="middle" font-size="38.89">2020-01</text>
<text x="1974" y="1637.8" text-anchor="middle" font-size="38.89">2020-07</text>
<text x="2363" y="1637.8" text-anchor="middle" font-size="38.89">2021-01</text>
<text x="2745" y="1637.8" text-anchor="middle" font-size="38.89">2021-07</text>
<text x="1557" y="1691" text-anchor="middle" font-size="41.67">weeks</text>
<path d="M411.3 1765.9 H488" stroke="#fa7c17" stroke-width="4.2" stroke-linecap="round" fill="none"/><text x="519.8" y="1780" font-size="38.89">Real Contribution x2</text><rect x="993.1" y="1751.1" width="80.7" height="30.7" fill="#c10c90" fill-opacity="0.4"/><rect x="994.8" y="1752.8" width="77.3" height="27.3" fill="none" stroke="#c10c90" stroke-opacity="0.4" stroke-width="2"/><text x="1103.1" y="1780" font-size="38.89">Posterior Contribution x2 (Basic)</text><rect x="1810.2" y="1751.1" width="80.7" height="30.7" fill="#fa7c17" fill-opacity="0.4"/><rect x="1811.9" y="1752.8" width="77.3" height="27.3" fill="none" stroke="#fa7c17" stroke-opacity="0.4" stroke-width="2"/><text x="1920.2" y="1780" font-size="38.89">Posterior Contribution x2 (Time-varying)</text>
</svg>
</body></html>
